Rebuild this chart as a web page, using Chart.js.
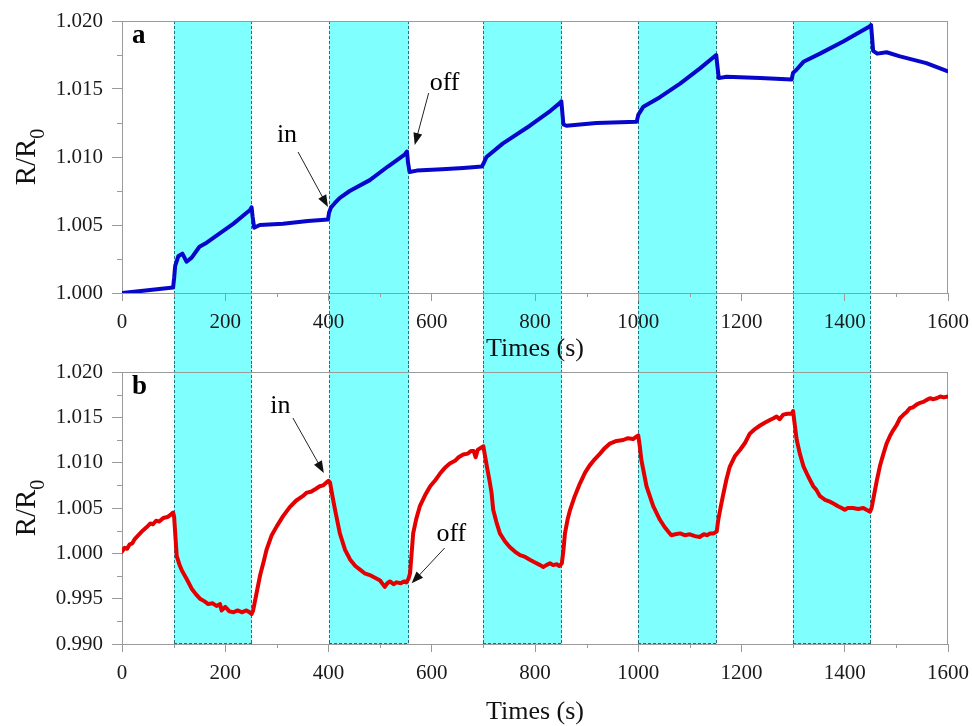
<!DOCTYPE html>
<html>
<head>
<meta charset="utf-8">
<script src="https://cdn.jsdelivr.net/npm/chart.js@4/dist/chart.umd.min.js"></script>
<style>
  body { margin: 0; background: #fff; }
  #wrap { position: relative; width: 972px; height: 726px; overflow: hidden; }
  #wrap canvas { position: absolute; left: 0; }
</style>
</head>
<body>
<div id="wrap">
  <canvas id="chartA" width="972" height="365" style="top:0"></canvas>
  <canvas id="chartB" width="972" height="371" style="top:355px"></canvas>
</div>
<script>
// exposure windows (gas "in" .. "off"), seconds
var bandStart = [100, 400, 700, 1000, 1300];
var bandEnd = [252, 555, 852, 1152, 1450];

// panel a (blue)
var blueTime = [0, 50, 99, 101, 103, 109, 117, 125, 135, 150, 164, 190, 216, 235, 248, 251, 253, 256, 267, 312, 360, 399,
  401, 405, 412, 422, 441, 480, 515, 548, 552, 554, 557, 571, 620, 661, 697,
  700, 706, 738, 790, 830, 849, 851, 855, 861, 919, 997,
  1000, 1010, 1042, 1081, 1119, 1151, 1153, 1156, 1171, 1236, 1297,
  1300, 1306, 1320, 1352, 1397, 1448, 1451, 1455, 1463, 1481, 1507, 1558, 1600];
var blueValues = [1.0000, 1.0002, 1.0004, 1.0011, 1.0020, 1.0027, 1.0029, 1.0023, 1.0026, 1.0034, 1.0037, 1.0044, 1.0051, 1.0057, 1.0061, 1.0063, 1.0056, 1.0048, 1.0050, 1.0051, 1.0053, 1.0054,
  1.0059, 1.0063, 1.0066, 1.0070, 1.0075, 1.0083, 1.0093, 1.0102, 1.0104, 1.0096, 1.0089, 1.0090, 1.0091, 1.0092, 1.0093,
  1.0095, 1.0100, 1.0110, 1.0123, 1.0134, 1.0140, 1.0141, 1.0124, 1.0123, 1.0125, 1.0126,
  1.0131, 1.0137, 1.0144, 1.0154, 1.0165, 1.0175, 1.0168, 1.0158, 1.0159, 1.0158, 1.0157,
  1.0162, 1.0164, 1.0170, 1.0176, 1.0185, 1.0196, 1.0197, 1.0178, 1.0176, 1.0177, 1.0174, 1.0169, 1.0163];

// panel b (red)
var redTime = [0, 5, 10, 15, 20, 25, 30, 40, 48, 55, 60, 66, 72, 80, 88, 95, 99,
  101, 106, 111, 116, 125, 135, 143, 151, 160, 167, 175, 183, 190, 193, 200, 208, 216, 224, 232, 241, 247, 251,
  254, 262, 268, 274, 280, 290, 300, 312, 325, 337, 350, 358, 366, 375, 383, 390, 396, 400,
  403, 408, 413, 422, 432, 442, 452, 461, 470, 480, 490, 500, 505, 509, 514, 519, 526, 532, 540, 546, 551, 555,
  558, 564, 570, 577, 587, 597, 606, 616, 625, 635, 645, 652, 661, 670, 676, 681, 685, 689, 694, 700,
  703, 707, 712, 716, 719, 725, 732, 742, 751, 761, 771, 781, 790, 800, 810, 816, 822, 829, 835, 842, 847, 852,
  855, 858, 863, 868, 877, 887, 897, 906, 916, 926, 935, 945, 958, 971, 980, 990, 997, 1000,
  1003, 1006, 1016, 1029, 1042, 1051, 1058, 1064, 1072, 1081, 1090, 1100, 1110, 1119, 1127, 1134, 1139, 1146, 1152,
  1155, 1160, 1165, 1171, 1177, 1187, 1197, 1207, 1216, 1226, 1236, 1245, 1255, 1262, 1268, 1274, 1281, 1289, 1297, 1300,
  1302, 1307, 1313, 1320, 1329, 1339, 1345, 1352, 1362, 1371, 1378, 1387, 1394, 1400, 1406, 1416, 1426, 1436, 1442, 1449,
  1452, 1455, 1462, 1468, 1475, 1481, 1488, 1494, 1500, 1507, 1514, 1520, 1526, 1532, 1539, 1546, 1552, 1558, 1565, 1572, 1578, 1585, 1592, 1600];
var redValues = [1.0002, 1.0006, 1.0005, 1.0010, 1.0011, 1.0016, 1.0019, 1.0025, 1.0029, 1.0033, 1.0032, 1.0036, 1.0035, 1.0039, 1.0040, 1.0043, 1.0045,
  1.0040, 0.9997, 0.9988, 0.9981, 0.9972, 0.9961, 0.9955, 0.9950, 0.9947, 0.9944, 0.9945, 0.9942, 0.9944, 0.9937, 0.9941, 0.9936, 0.9935, 0.9937, 0.9935, 0.9937, 0.9935, 0.9933,
  0.9937, 0.9960, 0.9977, 0.9990, 1.0004, 1.0020, 1.0030, 1.0041, 1.0051, 1.0058, 1.0063, 1.0067, 1.0068, 1.0071, 1.0074, 1.0075, 1.0078, 1.0080,
  1.0078, 1.0062, 1.0047, 1.0022, 1.0004, 0.9993, 0.9986, 0.9982, 0.9978, 0.9976, 0.9973, 0.9970, 0.9966, 0.9963, 0.9967, 0.9969, 0.9966, 0.9968, 0.9967, 0.9969, 0.9968, 0.9972,
  0.9978, 1.0022, 1.0038, 1.0052, 1.0064, 1.0074, 1.0080, 1.0088, 1.0094, 1.0099, 1.0102, 1.0106, 1.0109, 1.0110, 1.0113, 1.0113, 1.0106, 1.0114, 1.0116, 1.0118,
  1.0108, 1.0095, 1.0080, 1.0066, 1.0048, 1.0035, 1.0022, 1.0013, 1.0007, 1.0002, 0.9998, 0.9996, 0.9993, 0.9990, 0.9987, 0.9985, 0.9987, 0.9989, 0.9987, 0.9988, 0.9986, 0.9989,
  1.0003, 1.0022, 1.0037, 1.0048, 1.0063, 1.0077, 1.0089, 1.0097, 1.0104, 1.0110, 1.0116, 1.0121, 1.0124, 1.0125, 1.0127, 1.0126, 1.0129, 1.0130,
  1.0118, 1.0103, 1.0074, 1.0052, 1.0037, 1.0029, 1.0024, 1.0020, 1.0021, 1.0022, 1.0020, 1.0021, 1.0019, 1.0018, 1.0021, 1.0020, 1.0022, 1.0022, 1.0024,
  1.0037, 1.0052, 1.0066, 1.0082, 1.0095, 1.0107, 1.0114, 1.0122, 1.0132, 1.0137, 1.0141, 1.0144, 1.0147, 1.0149, 1.0151, 1.0148, 1.0153, 1.0154, 1.0154, 1.0157,
  1.0147, 1.0125, 1.0110, 1.0096, 1.0085, 1.0074, 1.0070, 1.0063, 1.0059, 1.0057, 1.0055, 1.0052, 1.0050, 1.0048, 1.0050, 1.0050, 1.0049, 1.0050, 1.0048, 1.0046,
  1.0050, 1.0059, 1.0080, 1.0096, 1.0110, 1.0121, 1.0130, 1.0136, 1.0141, 1.0149, 1.0153, 1.0156, 1.0160, 1.0161, 1.0164, 1.0166, 1.0167, 1.0169, 1.0171, 1.0170, 1.0171, 1.0173, 1.0172, 1.0173];

// annotation anchors in data units: text spot, arrow tail, arrow tip
var notesA = [
  { text: 'in', tx: 300, ty: 1.0111, x0: 341, y0: 1.01037, x1: 399, y1: 1.00632 },
  { text: 'off', tx: 596, ty: 1.01493, x0: 594, y0: 1.0147, x1: 567, y1: 1.01088 }
];
var notesB = [
  { text: 'in', tx: 287, ty: 1.01548, x0: 331, y0: 1.01493, x1: 391, y1: 1.00886 },
  { text: 'off', tx: 609, ty: 1.00136, x0: 625, y0: 1.00059, x1: 561, y1: 0.99669 }
];

var SERIF = '"Liberation Serif", "Times New Roman", serif';
var AXIS_GRAY = '#9a9a9a';

function toPoints(xs, ys) {
  return xs.map(function (t, i) { return { x: t, y: ys[i] }; });
}

function drawArrow(ctx, x0, y0, x1, y1) {
  var ang = Math.atan2(y1 - y0, x1 - x0);
  var L = 12, W = 4.5;
  var c = Math.cos(ang), s = Math.sin(ang);
  ctx.beginPath();
  ctx.moveTo(x0, y0);
  ctx.lineTo(x1 - c * 6, y1 - s * 6);
  ctx.stroke();
  ctx.beginPath();
  ctx.moveTo(x1, y1);
  ctx.lineTo(x1 - L * c + W * s, y1 - L * s - W * c);
  ctx.lineTo(x1 - L * c - W * s, y1 - L * s + W * c);
  ctx.closePath();
  ctx.fill();
}

var panelPlugin = {
  id: 'panel',
  beforeDraw: function (chart, args, opts) {
    var ctx = chart.ctx, area = chart.chartArea, x = chart.scales.x;
    var top = opts.bandTop == null ? area.top : opts.bandTop;
    var bottom = opts.bandBottom == null ? area.bottom : opts.bandBottom;
    ctx.save();
    for (var i = 0; i < bandStart.length; i++) {
      var a = Math.round(x.getPixelForValue(bandStart[i]));
      var b = Math.round(x.getPixelForValue(bandEnd[i]));
      ctx.fillStyle = '#80ffff';
      ctx.fillRect(a, top, b - a, bottom - top);
      ctx.strokeStyle = '#2d6d78';
      ctx.lineWidth = 1;
      ctx.setLineDash([3, 2]);
      ctx.beginPath();
      ctx.moveTo(a + 0.5, top); ctx.lineTo(a + 0.5, bottom);
      ctx.moveTo(b - 0.5, top); ctx.lineTo(b - 0.5, bottom);
      if (opts.bandTop == null) { ctx.moveTo(a, top + 0.5); ctx.lineTo(b, top + 0.5); }
      if (opts.bandBottom == null) { ctx.moveTo(a, bottom - 0.5); ctx.lineTo(b, bottom - 0.5); }
      ctx.stroke();
    }
    ctx.restore();
  },
  beforeDatasetsDraw: function (chart, args, opts) {
    var ctx = chart.ctx, area = chart.chartArea;
    var x = chart.scales.x, y = chart.scales.y;
    ctx.save();
    ctx.strokeStyle = AXIS_GRAY;
    ctx.lineWidth = 1;
    // top and right frame
    ctx.beginPath();
    ctx.moveTo(area.left, Math.round(area.top) + 0.5);
    ctx.lineTo(area.right, Math.round(area.top) + 0.5);
    ctx.moveTo(Math.round(area.right) - 0.5, area.top);
    ctx.lineTo(Math.round(area.right) - 0.5, area.bottom);
    // minor ticks halfway between the labelled ones
    var i, p;
    for (i = 0; i < x.ticks.length - 1; i++) {
      p = Math.round(x.getPixelForValue((x.ticks[i].value + x.ticks[i + 1].value) / 2)) + 0.5;
      ctx.moveTo(p, area.bottom); ctx.lineTo(p, area.bottom + 4);
    }
    for (i = 0; i < y.ticks.length - 1; i++) {
      p = Math.round(y.getPixelForValue((y.ticks[i].value + y.ticks[i + 1].value) / 2)) + 0.5;
      ctx.moveTo(area.left - 5, p); ctx.lineTo(area.left, p);
    }
    ctx.stroke();

    // y title R/R0 with subscript
    var cy = (area.top + area.bottom) / 2;
    ctx.translate(30, cy);
    ctx.rotate(-Math.PI / 2);
    ctx.fillStyle = '#111';
    ctx.textBaseline = 'alphabetic';
    ctx.font = '29px ' + SERIF;
    var w1 = ctx.measureText('R/R').width;
    ctx.font = '20px ' + SERIF;
    var w2 = ctx.measureText('0').width;
    var start = -(w1 + w2) / 2;
    ctx.font = '29px ' + SERIF;
    ctx.fillText('R/R', start, 5);
    ctx.font = '20px ' + SERIF;
    ctx.fillText('0', start + w1, 14);
    ctx.restore();
  },
  afterDatasetsDraw: function (chart, args, opts) {
    var ctx = chart.ctx, area = chart.chartArea;
    var x = chart.scales.x, y = chart.scales.y;
    ctx.save();
    ctx.fillStyle = '#000';
    ctx.font = 'bold 27px ' + SERIF;
    ctx.textBaseline = 'alphabetic';
    ctx.fillText(opts.letter, area.left + 10, area.top + 22);
    ctx.font = '26px ' + SERIF;
    ctx.strokeStyle = '#222';
    ctx.lineWidth = 1;
    (opts.notes || []).forEach(function (n) {
      ctx.fillStyle = '#000';
      ctx.fillText(n.text, x.getPixelForValue(n.tx), y.getPixelForValue(n.ty));
      ctx.fillStyle = '#111';
      drawArrow(ctx, x.getPixelForValue(n.x0), y.getPixelForValue(n.y0),
        x.getPixelForValue(n.x1), y.getPixelForValue(n.y1));
    });
    ctx.restore();
  }
};

function makeChart(id, cfg) {
  var ctx = document.getElementById(id).getContext('2d');
  return new Chart(ctx, {
    type: 'line',
    data: {
      datasets: [{
        data: toPoints(cfg.xs, cfg.ys),
        borderColor: cfg.color,
        borderWidth: 4,
        pointRadius: 0,
        tension: 0,
        borderJoinStyle: 'round',
        borderCapStyle: 'round',
        fill: false
      }]
    },
    options: {
      responsive: false,
      animation: false,
      devicePixelRatio: 1,
      layout: { padding: { top: cfg.padTop, right: 24, left: 0, bottom: 0 } },
      plugins: {
        legend: { display: false },
        tooltip: { enabled: false },
        panel: { letter: cfg.letter, notes: cfg.notes, bandTop: cfg.bandTop, bandBottom: cfg.bandBottom }
      },
      scales: {
        x: {
          type: 'linear',
          min: 0,
          max: 1600,
          afterFit: function (scale) {
            scale.height = cfg.xHeight;
            scale.paddingLeft = 0;
            scale.paddingRight = 0;
          },
          ticks: {
            stepSize: 200,
            autoSkip: false,
            maxRotation: 0,
            padding: 9,
            color: '#1a1a1a',
            font: { family: SERIF, size: 21 },
            callback: function (v) { return String(v); }
          },
          grid: { drawOnChartArea: false, tickLength: 8, color: AXIS_GRAY },
          border: { color: AXIS_GRAY },
          title: {
            display: true,
            text: 'Times (s)',
            color: '#111',
            font: { family: SERIF, size: 26, lineHeight: 1.2 },
            padding: { top: 0, bottom: cfg.titlePad }
          }
        },
        y: {
          min: cfg.yMin,
          max: cfg.yMax,
          afterFit: function (scale) {
            scale.width = 122;
            scale.paddingTop = 0;
            scale.paddingBottom = 0;
          },
          ticks: {
            stepSize: 0.005,
            padding: 9,
            color: '#1a1a1a',
            font: { family: SERIF, size: 21 },
            callback: function (v) { return v.toFixed(3); }
          },
          grid: { drawOnChartArea: false, tickLength: 10, color: AXIS_GRAY },
          border: { color: AXIS_GRAY }
        }
      }
    },
    plugins: [panelPlugin]
  });
}

makeChart('chartA', {
  xs: blueTime, ys: blueValues, color: '#0707cc',
  yMin: 1.000, yMax: 1.020, padTop: 21, xHeight: 72, titlePad: 0,
  letter: 'a', notes: notesA, bandTop: null, bandBottom: 365
});

makeChart('chartB', {
  xs: redTime, ys: redValues, color: '#e40000',
  yMin: 0.990, yMax: 1.020, padTop: 17, xHeight: 82, titlePad: -2,
  letter: 'b', notes: notesB, bandTop: 10, bandBottom: null
});
</script>
</body>
</html>
